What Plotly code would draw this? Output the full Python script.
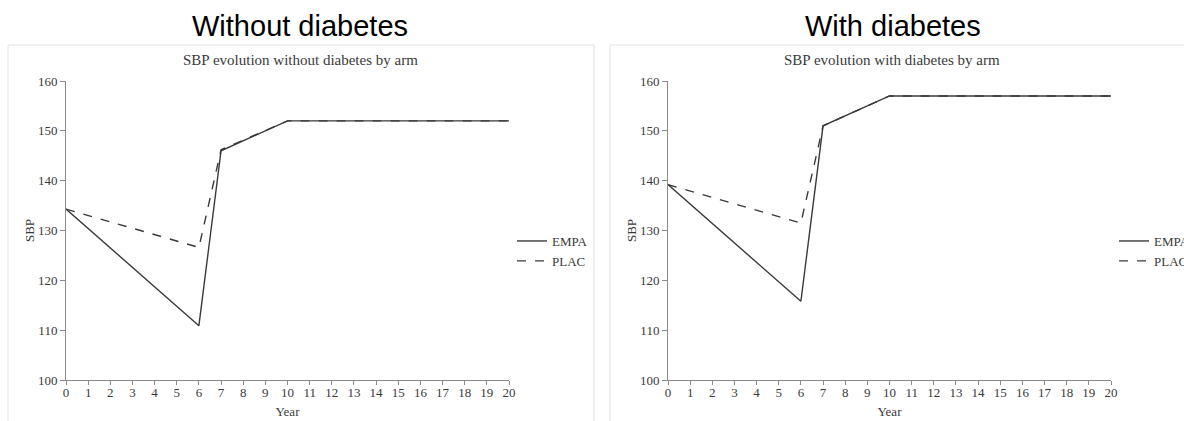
import plotly.graph_objects as go

years = [0, 6, 7, 10, 20]
no_dm_empa = [134.3, 110.9, 146.0, 152.0, 152.0]
no_dm_plac = [134.3, 126.6, 146.2, 152.0, 152.0]
dm_empa = [139.2, 115.8, 151.0, 157.0, 157.0]
dm_plac = [139.2, 131.5, 151.0, 157.0, 157.0]

panel_titles = ["Without diabetes", "With diabetes"]
chart_titles = ["SBP evolution without diabetes by arm", "SBP evolution with diabetes by arm"]
x_ticks = list(range(0, 21))
y_ticks = [100, 110, 120, 130, 140, 150, 160]

W, H = 1184, 421
def px(x):
    return x / W
def py(y):
    return 1 - y / H

line_col = "#3a3a3a"
axis_col = "#8a8a8a"
serif = "Liberation Serif, Times New Roman, serif"
sans = "Liberation Sans, Arial, sans-serif"

fig = go.Figure()
fig.add_trace(go.Scatter(x=years, y=no_dm_empa, mode="lines", name="EMPA",
                         line=dict(color=line_col, width=1.4), xaxis="x", yaxis="y", legend="legend"))
fig.add_trace(go.Scatter(x=years, y=no_dm_plac, mode="lines", name="PLAC",
                         line=dict(color=line_col, width=1.4, dash="dash"), xaxis="x", yaxis="y", legend="legend"))
fig.add_trace(go.Scatter(x=years, y=dm_empa, mode="lines", name="EMPA",
                         line=dict(color=line_col, width=1.4), xaxis="x2", yaxis="y2", legend="legend2"))
fig.add_trace(go.Scatter(x=years, y=dm_plac, mode="lines", name="PLAC",
                         line=dict(color=line_col, width=1.4, dash="dash"), xaxis="x2", yaxis="y2", legend="legend2"))

xa = dict(range=[0, 20], tickvals=x_ticks, ticks="outside", ticklen=4, tickcolor=axis_col,
          showline=True, linecolor=axis_col, linewidth=1, showgrid=False, zeroline=False,
          ticklabelstandoff=-4,
          tickfont=dict(family=serif, size=13, color=line_col),
          title=dict(text="Year", font=dict(family=serif, size=13, color=line_col), standoff=8))
ya = dict(range=[100, 160], tickvals=y_ticks, ticks="outside", ticklen=5, tickcolor=axis_col,
          showline=True, linecolor=axis_col, linewidth=1, showgrid=False, zeroline=False,
          tickfont=dict(family=serif, size=13, color=line_col),
          title=dict(text="SBP", font=dict(family=serif, size=13, color=line_col), standoff=0))

legend_common = dict(font=dict(family=serif, size=13, color=line_col), bgcolor="rgba(0,0,0,0)",
                     xanchor="left", yanchor="top", itemwidth=30, tracegroupgap=0)

fig.update_layout(
    width=W, height=H,
    margin=dict(l=0, r=0, t=0, b=0, autoexpand=False),
    paper_bgcolor="white", plot_bgcolor="white",
    xaxis=dict(xa, domain=[px(66), px(509)], anchor="y"),
    yaxis=dict(ya, domain=[py(380), py(81)], anchor="x"),
    xaxis2=dict(xa, domain=[px(668), px(1111)], anchor="y2"),
    yaxis2=dict(ya, domain=[py(380), py(81)], anchor="x2"),
    legend=dict(legend_common, x=px(512), y=py(226)),
    legend2=dict(legend_common, x=px(1114), y=py(226)),
    showlegend=True,
)

# panel borders
fig.add_shape(type="rect", xref="paper", yref="paper", x0=px(8), x1=px(594), y0=py(430), y1=py(45),
              line=dict(color="#e2e2e2", width=1), layer="below")
fig.add_shape(type="rect", xref="paper", yref="paper", x0=px(610), x1=px(1200), y0=py(430), y1=py(45),
              line=dict(color="#e2e2e2", width=1), layer="below")

# big titles
for cx, t in zip([300, 893], panel_titles):
    fig.add_annotation(x=px(cx), y=py(26), xref="paper", yref="paper", text=t, showarrow=False,
                       xanchor="center", yanchor="middle", font=dict(family=sans, size=29, color="black"))
for cx, t in zip([300, 892], chart_titles):
    fig.add_annotation(x=px(cx), y=py(60), xref="paper", yref="paper", text=t, showarrow=False,
                       xanchor="center", yanchor="middle", font=dict(family=serif, size=15, color=line_col))

fig.write_html("out.html", config={"displayModeBar": False},
               post_script="document.body.style.margin='0';document.body.style.overflow='hidden';")
